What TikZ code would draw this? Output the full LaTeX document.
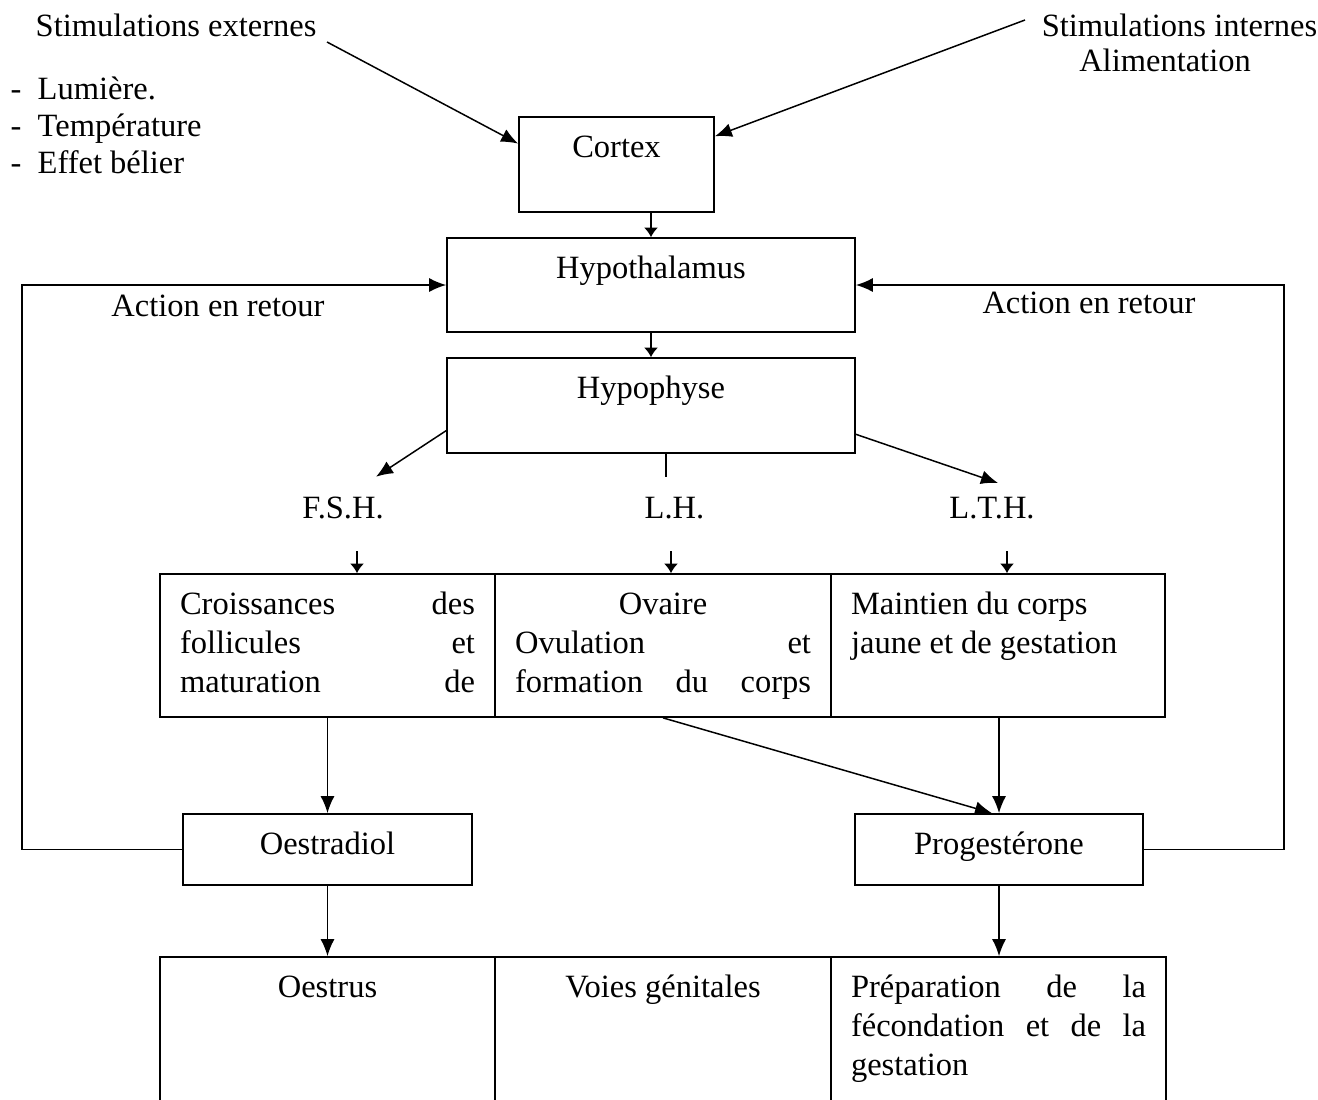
\documentclass[tikz,border=0pt]{standalone}
\usepackage{fontspec}
\setmainfont{Liberation Serif}
\usetikzlibrary{arrows.meta,calc}
\tikzset{>={Latex[length=3.4mm,width=2.8mm]}}
\tikzset{
  boite/.style={draw, line width=1pt, inner xsep=0.4cm, inner ysep=0pt},
  etiq/.style={inner sep=0.1cm},
  petite/.style={-{Latex[length=1.9mm,width=2.8mm]}}
}
\newcommand{\cadre}[3]{\parbox[c][#2][t]{\dimexpr#1-0.8cm\relax}{\vspace*{0.27cm}#3}}
\newcommand{\ligne}[1]{\makebox[\linewidth][s]{#1}}

\begin{document}
\begin{tikzpicture}[x=0.02cm, y=-0.02cm, line width=0.85pt,
    font=\fontsize{18.5}{22.2}\selectfont]
    \clip (0,0) rectangle (1318,1099);

    % Stimulations
    \node (stimext) [anchor=base west, inner sep=0] at (35,36) {Stimulations externes};
    \node (facteurs) [anchor=north west, align=left, inner sep=0] at (10,76)
        {\makebox[0.54cm][l]{-}Lumière.\\[-1pt]
         \makebox[0.54cm][l]{-}Température\\[-1pt]
         \makebox[0.54cm][l]{-}Effet bélier};
    \node (stimint) [anchor=base west, inner sep=0] at (1041,36) {Stimulations internes};
    \node (alim) [anchor=base, inner sep=0] at (1165,71) {Alimentation};

    % Centres nerveux
    \node (cortex) [boite] at (616.5,164.5) {\cadre{3.9cm}{1.9cm}{\centering\strut Cortex}};
    \node (hypothal) [boite] at (651,285) {\cadre{8.16cm}{1.88cm}{\centering\strut Hypothalamus}};
    \node (hypoph) [boite] at (651,405.5) {\cadre{8.16cm}{1.9cm}{\centering\strut Hypophyse}};

    % Hormones hypophysaires
    \node (fsh) [etiq, anchor=base] at (343,518) {F.S.H.};
    \node (lh) [etiq, anchor=base] at (674.5,518) {L.H.};
    \node (lth) [etiq, anchor=base] at (992,518) {L.T.H.};

    % Ovaire
    \node (croiss) [boite] at (327.5,645.5) {\cadre{6.7cm}{2.86cm}{\strut\ligne{Croissances des}\\
        \ligne{follicules et}\\ \ligne{maturation de}}};
    \node (ovaire) [boite] at (663,645.5) {\cadre{6.72cm}{2.86cm}{\strut\makebox[\linewidth]{Ovaire}\\
        \ligne{Ovulation et}\\ \ligne{formation du corps}}};
    \node (maintien) [boite] at (998,645.5) {\cadre{6.68cm}{2.86cm}{\raggedright\strut Maintien du corps\\
        jaune et de gestation}};

    % Hormones ovariennes
    \node (oestradiol) [boite] at (327.5,849.5) {\cadre{5.78cm}{1.42cm}{\centering\strut Oestradiol}};
    \node (proges) [boite] at (999,849.5) {\cadre{5.76cm}{1.42cm}{\centering\strut Progestérone}};

    % Voies genitales
    \node (oestrus) [boite] at (327.5,1042) {\cadre{6.7cm}{3.4cm}{\centering\strut Oestrus}};
    \node (voies) [boite] at (663,1042) {\cadre{6.72cm}{3.4cm}{\centering\strut Voies génitales}};
    \node (prepa) [boite] at (998.5,1042) {\cadre{6.7cm}{3.4cm}{\strut\ligne{Préparation de la}\\
        \ligne{fécondation et de la}\\ gestation}};

    \node (retourg) [anchor=base, inner sep=0] at (218,316) {Action en retour};
    \node (retourd) [anchor=base, inner sep=0] at (1089,313) {Action en retour};

    % Fleches
    \coordinate (depext) at (327,42);
    \coordinate (depint) at (1025,20);
    \draw[->] (depext) -- (cortex.168);
    \draw[->] (depint) -- (cortex.16);
    \draw[petite] (cortex.south -| hypothal.north) -- (hypothal.north);
    \draw[petite] (hypothal.south) -- (hypoph.north);

    \draw[->] (hypoph.187) -- ($(fsh.north)+(33,-14)$);
    \coordinate (lhhaut) at ($(lh.north)+(-8.5,-14)$);
    \draw (hypoph.south -| lhhaut) -- (lhhaut);
    \draw[->] (hypoph.-8) -- ($(lth.north)+(6,-8)$);

    \draw[petite] ([shift={(14,27)}]fsh.south) coordinate (f1) -- (f1 |- croiss.north);
    \draw[petite] ([shift={(-3.5,27)}]lh.south) coordinate (l1) -- (l1 |- ovaire.north);
    \draw[petite] ([shift={(15,27)}]lth.south) coordinate (t1) -- (t1 |- maintien.north);

    \draw[->] (croiss.south) -- (oestradiol.north);
    \draw[->] (ovaire.south) -- ([xshift=-0.14cm]proges.north);
    \draw[->] (maintien.south -| proges.north) -- (proges.north);
    \draw[->] (oestradiol.south) -- (oestrus.north);
    \draw[->] (proges.south) -- (proges.south |- prepa.north);

    % Action en retour
    \coordinate (gauche) at (22,0);
    \coordinate (droite) at (1284,0);
    \draw[->] (oestradiol.west) -| (gauche |- hypothal.west) -- (hypothal.west);
    \draw[->] (proges.east) -| (droite |- hypothal.east) -- (hypothal.east);
\end{tikzpicture}
\end{document}
